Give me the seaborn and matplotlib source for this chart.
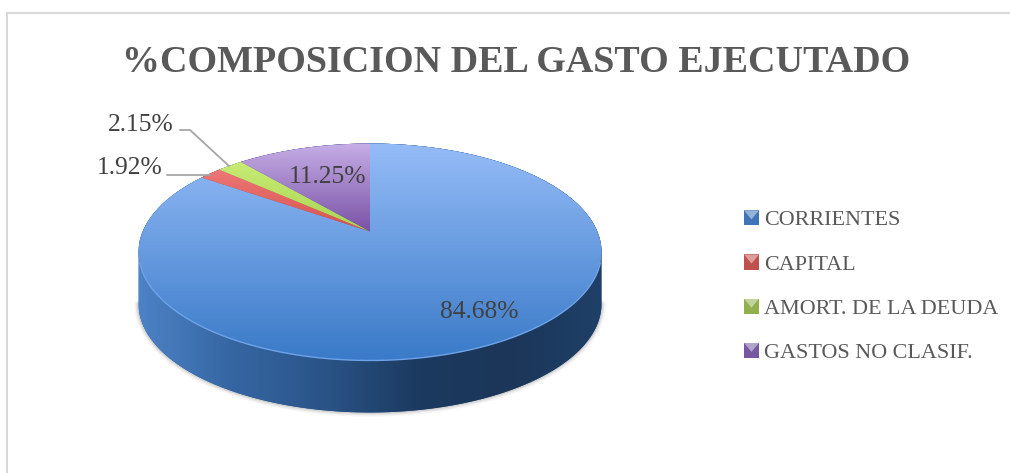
import numpy as np
import seaborn as sns
import matplotlib
matplotlib.use("Agg")
import matplotlib.pyplot as plt
from matplotlib.patches import Rectangle, Polygon, Patch
from matplotlib.transforms import Transform

title = "%COMPOSICION DEL GASTO EJECUTADO"
categories = ["CORRIENTES", "CAPITAL", "AMORT. DE LA DEUDA", "GASTOS NO CLASIF."]
shares = [84.68, 1.92, 2.15, 11.25]

# light / dark ends of the gradient on each slice
light_colors = ["#95bcf7", "#f48a88", "#d2f27c", "#c6aee6"]
dark_colors = ["#3a7ac8", "#d9504c", "#a8d455", "#7a52a6"]
legend_colors = ["#3f74b8", "#c0504d", "#8fb04a", "#7558a0"]

sns.set_theme(style="white")
plt.rcParams["font.family"] = ["Liberation Serif", "DejaVu Serif"]

# picture is laid out in pixels
W, H = 1010, 473
APEX_X, APEX_Y = 370.0, 231.5
SCALE_X, SCALE_Y, TILT = 227.3, 104.6, 0.189
DEPTH = 52


class DiskView(Transform):
    """Tilted view of the unit disk, near edge bigger than the far edge."""
    input_dims = 2
    output_dims = 2

    def transform_non_affine(self, values):
        values = np.asarray(values, dtype=float)
        u, v = values[:, 0], values[:, 1]
        w = 1 + TILT * v
        return np.column_stack([APEX_X + SCALE_X * u / w, APEX_Y - SCALE_Y * v / w])


fig = plt.figure(figsize=(W / 100, H / 100), dpi=100)
ax = fig.add_axes([0, 0, 1, 1])

wedges, _ = ax.pie(shares, startangle=90, counterclock=False, colors=dark_colors)
view = DiskView()

# rim of the disk, used for the wall
theta = np.linspace(0, 2 * np.pi, 721)
rim = view.transform(np.column_stack([np.cos(theta), np.sin(theta)]))
centre_y = (rim[:, 1].min() + rim[:, 1].max()) / 2
order = np.argsort(np.arctan2(rim[:, 1] - centre_y, rim[:, 0] - APEX_X))
rim = rim[order]
wall = rim.copy()
wall[:, 1] += np.where(wall[:, 1] > centre_y, DEPTH, 0)

# soft shadow under the wall only
lower = wall[wall[:, 1] > centre_y + 10]
for lw, a in [(6, 0.06), (4, 0.09), (2, 0.14)]:
    ax.plot(lower[:, 0], lower[:, 1], color="#555555", lw=lw, alpha=a, zorder=1)

wall_cmap = sns.blend_palette(["#4c82c6", "#3566a2", "#2a5488", "#1c3a60", "#1b3658", "#1f4068"],
                              as_cmap=True)
wall_img = ax.imshow(np.linspace(0, 1, 256)[None, :], cmap=wall_cmap, aspect="auto",
                     extent=(rim[:, 0].min(), rim[:, 0].max(), H, 0), zorder=2)
wall_patch = Polygon(wall, closed=True, fc="#2a5488", ec="none", zorder=1.5)
ax.add_patch(wall_patch)
wall_img.set_clip_path(wall_patch)

# top face, one gradient per slice
grad = np.linspace(0, 1, 256)[:, None]
top, bottom = rim[:, 1].min(), rim[:, 1].max()
for i, (wedge, c0, c1) in enumerate(zip(wedges, light_colors, dark_colors)):
    wedge.set_transform(view + ax.transData)
    wedge.set_zorder(3)
    wedge.set_edgecolor("none")
    cmap = sns.blend_palette([c0, c1], as_cmap=True)
    y1 = bottom if i == 0 else APEX_Y
    img = ax.imshow(grad, cmap=cmap, aspect="auto", zorder=4,
                    extent=(rim[:, 0].min(), rim[:, 0].max(), y1, top))
    img.set_clip_path(wedge)

# light edge along the front of the disk
front = rim[rim[:, 1] > centre_y + 10]
ax.plot(front[:, 0], front[:, 1], color="#6fa3e8", lw=1.0, zorder=5)

# leader lines
leader = "#a6a6a6"
ax.plot([167, 210], [175, 175], color=leader, lw=1.3, zorder=5)
ax.plot([180, 190, 229], [130, 130, 166], color=leader, lw=1.3, zorder=5)

# data labels
label_pos = [(479, 312), (130, 168), (141, 125), (328, 177)]
for share, (x, y) in zip(shares, label_pos):
    ax.text(x, y, f"{share:.2f}%", ha="center", va="center", fontsize=18.4,
            color="#404040", zorder=6)

ax.text(516, 63, title, ha="center", va="center", fontsize=27.4, fontweight="bold",
        color="#595959", zorder=6)


class BevelHandler:
    """Small square legend key with a light V on top."""

    def legend_artist(self, legend, orig_handle, fontsize, handlebox):
        x0, y0 = handlebox.xdescent, handlebox.ydescent
        w, h = handlebox.width, handlebox.height
        tr = handlebox.get_transform()
        box = Rectangle((x0, y0), w, h, fc=orig_handle.get_facecolor(), ec="none", transform=tr)
        vee = Polygon([(x0, y0 + h), (x0 + w, y0 + h), (x0 + w / 2, y0 + h * 0.4)], closed=True,
                      fc="white", alpha=0.45, ec="none", transform=tr)
        handlebox.add_artist(box)
        handlebox.add_artist(vee)
        return box


handles = [Patch(facecolor=c) for c in legend_colors]
ax.legend(handles, categories, loc="upper left", bbox_to_anchor=(744 / W, 1 - 210 / H),
          frameon=False, fontsize=15.9, labelcolor="#595959", labelspacing=1.08,
          handlelength=0.68, handleheight=0.68, handletextpad=0.22, borderpad=0, borderaxespad=0,
          handler_map={Patch: BevelHandler()})

# outer frame
border = "#d9d9d9"
ax.plot([7, 7], [H, 13], color=border, lw=1.5, zorder=7)
ax.plot([7, W], [13, 13], color=border, lw=1.5, zorder=7)

ax.set_aspect("auto")
ax.set_xlim(0, W)
ax.set_ylim(H, 0)
ax.axis("off")

fig.savefig("out.png", dpi=100, facecolor="white")
